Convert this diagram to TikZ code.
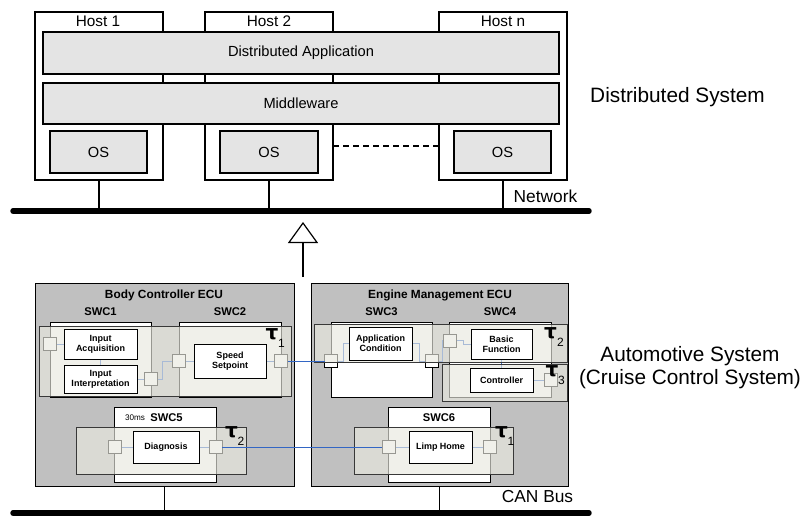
\documentclass[tikz,border=0pt]{standalone}
\usepackage{fontspec}
\setmainfont{Liberation Sans}
\newfontfamily\taufont{DejaVu Sans}
\usetikzlibrary{arrows.meta}

\pgfdeclarelayer{base}
\pgfdeclarelayer{wires}
\pgfdeclarelayer{ports}
\pgfdeclarelayer{tasks}
\pgfsetlayers{base,wires,ports,tasks,main}

\definecolor{layergray}{HTML}{E4E4E4}
\definecolor{ecugray}{HTML}{C0C0C0}
\definecolor{taskfill}{HTML}{E8E8E0}
\definecolor{taskline}{HTML}{383838}
\definecolor{wireblue}{HTML}{3366C4}

% box node given by its pixel corners: style, name, x1, y1, x2, y2, text
\newcommand\pxnode[7]{\node[#1,minimum width={(#5-#3)*0.75pt},minimum height={(#6-#4)*0.75pt}] (#2) at ({(#3+#5)/2},{(#4+#6)/2}) {#7};}

\tikzset{
  every node/.style={inner sep=0pt, outer sep=0pt},
  host/.style={draw=black, line width=0.8pt, fill=white},
  hostlbl/.style={font=\fontsize{11.5}{13}\selectfont},
  layerbox/.style={draw=black, line width=0.8pt, fill=layergray, font=\fontsize{11}{13}\selectfont},
  drop/.style={line width=1.3pt},
  bus/.style={line width=4.1pt, line cap=round},
  dotline/.style={line width=1.7pt, dash pattern=on 4.5pt off 3pt},
  buslbl/.style={font=\fontsize{13}{15}\selectfont},
  syslbl/.style={font=\fontsize{15.6}{17.3}\selectfont, align=center},
  refine/.style={line width=0.9pt, -{Triangle[open, length=15.75pt, width=22.5pt]}},
  ecu/.style={draw=black, line width=0.75pt, fill=ecugray},
  ecutitle/.style={font=\bfseries\fontsize{8.9}{10}\selectfont},
  swc/.style={draw=black, line width=0.75pt, fill=white},
  swclbl/.style={font=\bfseries\fontsize{8.4}{9}\selectfont},
  periodlbl/.style={font=\fontsize{6.1}{7}\selectfont},
  port/.style={draw=black, line width=0.6pt, fill=white, minimum size=9.75pt},
  comp/.style={draw=black, line width=0.75pt, fill=white, align=center, font=\bfseries\fontsize{6.75}{7.5}\selectfont},
  task/.style={draw=taskline, line width=0.75pt, fill=taskfill, fill opacity=0.65},
  taulbl/.style={font=\taufont\bfseries\fontsize{15}{15}\selectfont},
  tausub/.style={font=\fontsize{9}{9}\selectfont},
  wire/.style={draw=wireblue, line width=0.75pt},
}

\begin{document}
\begin{tikzpicture}[x=0.75pt, y=-0.75pt]
\useasboundingbox (0,0) rectangle (803,517);

% ---------------- distributed system ----------------
\pxnode{host}{hostA}{35}{12}{163}{180}{}
\pxnode{host}{hostB}{205}{12}{333}{180}{}
\pxnode{host}{hostC}{439}{12}{567}{180}{}
\node[hostlbl] (hostAl) at (98,21.5) {Host 1};
\node[hostlbl] (hostBl) at (269,21.5) {Host 2};
\node[hostlbl] (hostCl) at (503,21.5) {Host n};

\pxnode{layerbox}{dapp}{43}{32}{559}{74}{Distributed Application}
\pxnode{layerbox}{mw}{43}{83}{559}{124}{Middleware}
\pxnode{layerbox}{os1}{50}{131}{147}{173}{OS}
\pxnode{layerbox}{os2}{220}{131}{318}{173}{OS}
\pxnode{layerbox}{os3}{454}{131}{551}{173}{OS}

\coordinate (dashY) at (0,146);
\draw[dotline] (hostB.east |- dashY) -- (hostC.west |- dashY);

\coordinate (netL) at (13,211);
\coordinate (netR) at (589,211);
\draw[bus] (netL) -- (netR);
\draw[drop] (hostA.south) -- (hostA.south |- netL);
\draw[drop] (hostB.south) -- (hostB.south |- netL);
\draw[drop] (hostC.south) -- (hostC.south |- netL);
\node[buslbl] (netlbl) at (545.5,196.5) {Network};
\node[syslbl] (dslbl) at (677.5,97) {Distributed System};

% refinement arrow
\coordinate (arrowFoot) at (303,277);
\coordinate (arrowHead) at (303,222);
\draw[refine] (arrowFoot) -- (arrowHead);

% ---------------- automotive system ----------------
\begin{pgfonlayer}{base}
\pxnode{ecu}{ecuB}{35}{283}{294}{486}{}
\pxnode{ecu}{ecuE}{311}{283}{568}{486}{}
\pxnode{swc}{swc1}{50}{322}{151}{397}{}
\pxnode{swc}{swc2}{179}{322}{281}{397}{}
\pxnode{swc}{swc3}{331}{322}{432}{397}{}
\pxnode{swc}{swc4}{449}{322}{551}{397}{}
\pxnode{swc}{swc5}{114}{407}{216}{482}{}
\pxnode{swc}{swc6}{388}{407}{490}{482}{}
\end{pgfonlayer}

\node[ecutitle] (ecuBt) at (164,295) {Body Controller ECU};
\node[ecutitle] (ecuEt) at (440,295) {Engine Management ECU};
\node[swclbl] (swc1l) at (100.5,312) {SWC1};
\node[swclbl] (swc2l) at (230,312) {SWC2};
\node[swclbl] (swc3l) at (381.5,312) {SWC3};
\node[swclbl] (swc4l) at (500,312) {SWC4};
\node[periodlbl] (swc5p) at (135,418) {30ms};
\node[swclbl] (swc5l) at (166.5,418) {SWC5};
\node[swclbl] (swc6l) at (439,418) {SWC6};

% runnables
\pxnode{comp}{ia}{64}{329}{137}{359}{Input\\Acquisition}
\pxnode{comp}{ii}{64}{365}{137}{393}{Input\\Interpretation}
\pxnode{comp}{ss}{194}{344}{266}{378}{Speed\\Setpoint}
\pxnode{comp}{ac}{349}{327}{412}{360}{Application\\Condition}
\pxnode{comp}{bf}{471}{329}{532}{359}{Basic\\Function}
\pxnode{comp}{ctrl}{470}{368}{533}{392}{Controller}
\pxnode{comp}{diag}{133}{431}{199}{463}{Diagnosis}
\pxnode{comp}{limp}{409}{431}{472}{463}{Limp Home}

% ports
\begin{pgfonlayer}{ports}
\node[port] (p1a) at (50,344) {};
\node[port] (p1b) at (151,379) {};
\node[port] (p2a) at (179,361) {};
\node[port] (p2b) at (281,361) {};
\node[port] (p3a) at (331,361) {};
\node[port] (p3b) at (432,361) {};
\node[port] (p4a) at (449.5,340.5) {};
\node[port] (p4b) at (551,380) {};
\node[port] (p5a) at (115,447) {};
\node[port] (p5b) at (215.5,447) {};
\node[port] (p6a) at (388.5,447) {};
\node[port] (p6b) at (489.5,447) {};
\end{pgfonlayer}

% connections inside the ECUs
\begin{pgfonlayer}{wires}
\draw[wire] (p1a.east) -- (ia.west);
\draw[wire] (ia.south) -- (ii.north);
\draw[wire] (ii.east) -- (p1b.west);
\draw[wire] (p1b.east) -- ++(5,0) |- (p2a.west);
\draw[wire] (p2a.east) -- (ss.west);
\draw[wire] (ss.east) -- (p2b.west);
\draw[wire] (p3a.east) -- ++(6,0) |- (ac.west);
\draw[wire] (ac.east) -- ++(7,0) |- (p3b.west);
\draw[wire] (p3b.east) -- ++(4,0) |- (p4a.west);
\draw[wire] (p4a.east) -- ++(7,0) |- (bf.west);
\draw[wire] (bf.south) -- (bf.south |- ctrl.north);
\draw[wire] (ctrl.east) -- (p4b.west);
\draw[wire] (p5a.east) -- (diag.west);
\draw[wire] (diag.east) -- (p5b.west);
\draw[wire] (p6a.east) -- (limp.west);
\draw[wire] (limp.east) -- (p6b.west);
\end{pgfonlayer}

% task regions
\begin{pgfonlayer}{tasks}
\pxnode{task}{t1}{39}{326}{291}{396}{}
\pxnode{task}{t2}{314}{324}{567}{362}{}
\pxnode{task}{t3}{442}{364}{567}{401}{}
\pxnode{task}{t4}{76}{427}{246}{474}{}
\pxnode{task}{t5}{354}{427}{513}{474}{}
\end{pgfonlayer}

\node[taulbl] (tau1) at (272,334) {τ};
\node[tausub] (tau1s) at (281.5,343) {1};
\node[taulbl] (tau2) at (550.5,333) {τ};
\node[tausub] (tau2s) at (560.5,342) {2};
\node[taulbl] (tau3) at (552,371) {τ};
\node[tausub] (tau3s) at (561.5,380) {3};
\node[taulbl] (tau4) at (231.5,432.5) {τ};
\node[tausub] (tau4s) at (241,441) {2};
\node[taulbl] (tau5) at (501.5,432.5) {τ};
\node[tausub] (tau5s) at (511,441) {1};

% bus communication between the ECUs
\draw[wire] (p2b.east) -- (p3a.west);
\draw[wire] (p5b.east) -- (p6a.west);

\coordinate (canL) at (13,513);
\coordinate (canR) at (589,513);
\draw[bus] (canL) -- (canR);
\draw[drop] (ecuB.south) -- (ecuB.south |- canL);
\draw[drop] (ecuE.south) -- (ecuE.south |- canL);
\node[buslbl] (canlbl) at (537.5,497) {CAN Bus};
\node[syslbl] (aslbl) at (690,368) {Automotive System\\(Cruise Control System)};
\end{tikzpicture}
\end{document}
